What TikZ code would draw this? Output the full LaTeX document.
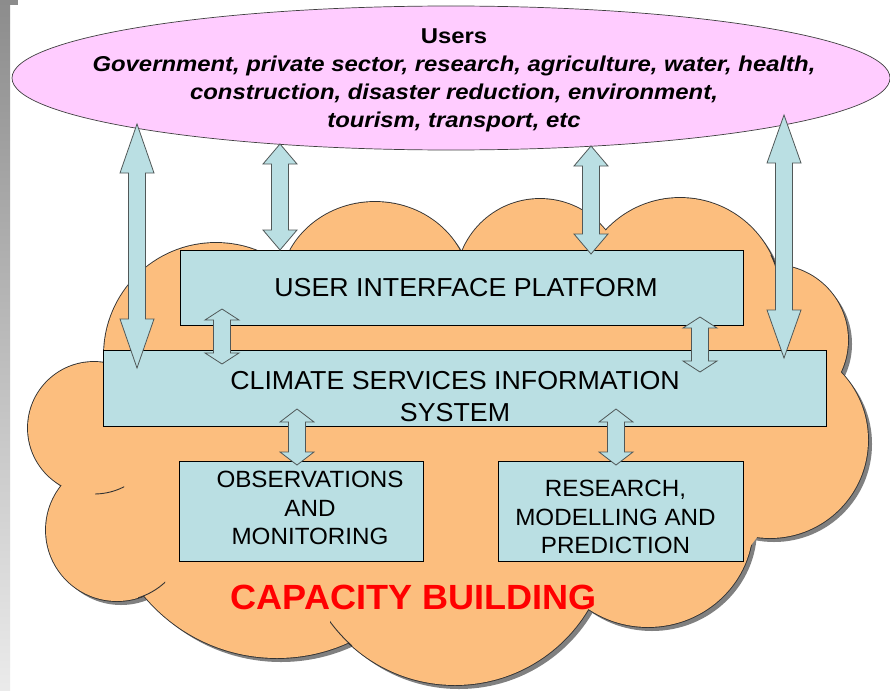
\documentclass[tikz,border=0pt]{standalone}
\usepackage{fontspec}
\setmainfont[FakeStretch=1.03]{Liberation Sans}
\newfontfamily\usersfont[FakeStretch=1.11]{Liberation Sans}
\usetikzlibrary{shapes.geometric,calc}
\definecolor{cloudfill}{RGB}{252,190,126}
\definecolor{boxfill}{RGB}{186,223,227}
\definecolor{pinkfill}{RGB}{255,204,255}
\definecolor{shadowgray}{RGB}{128,128,128}
\definecolor{arrowline}{RGB}{80,88,88}
\definecolor{capred}{RGB}{255,0,0}
\newcommand\cloudshapes[1]{%
  \path[#1] (216,355) circle (112pt);
  \path[#1] (375,290) ellipse [x radius=95pt, y radius=88pt];
  \path[#1] (540,283) circle (84pt);
  \path[#1] (680,299) circle (101pt);
  \path[#1] (773,340) circle (75pt);
  \path[#1] (770,440) circle (98pt);
  \path[#1] (648,525) ellipse [x radius=105pt, y radius=102pt];
  \path[#1] (455,530) circle (155pt);
  \path[#1] (277,485) circle (173pt);
  \path[#1] (117,530) circle (71pt);
  \path[#1] (94,428) circle (66pt);
}
\newcommand\dblarrow[3]{%
  \draw[blockarrow] let \p1=(#1), \p2=(#2) in
  (\p1) -- ++(17pt,-#3pt) -- ++(-8.5pt,0pt) -- (\x2+8.5pt,\y2+#3pt) -- ++(8.5pt,0pt) -- (\p2)
  -- ++(-17pt,#3pt) -- ++(8.5pt,0pt) -- (\x1-8.5pt,\y1-#3pt) -- ++(-8.5pt,0pt) -- cycle;}
\begin{document}
\begin{tikzpicture}[x=1pt,y=-1pt,
  box/.style={rectangle, draw=black, fill=boxfill, line width=0.8pt, inner sep=0pt},
  blockarrow/.style={draw=arrowline, fill=boxfill, line width=0.8pt, line join=miter},
  bigtxt/.style={font=\fontsize{26}{32}\selectfont, align=center, inner sep=0pt},
  smalltxt/.style={font=\fontsize{23.5}{28.5}\selectfont, align=center, inner sep=0pt},
  stub/.style={draw=black!80, line width=0.9pt}]
\useasboundingbox (0,0) rectangle (890,690);
\fill[white] (0,0) rectangle (890,690);
% left gray bar
\shade[top color=black!45, bottom color=black!8] (0,0) rectangle (10,690);
\fill[black!45] (0,0) rectangle (18,5);
% users ellipse
\node[ellipse, draw=black!75, line width=0.7pt, fill=pinkfill, minimum width=878pt, minimum height=144pt, inner sep=0pt] (users) at (451,78) {};
\node[font=\usersfont\bfseries\fontsize{21.5}{28}\selectfont, align=center, inner sep=0pt] (userstext) at (454,80)
  {Users\\\itshape Government, private sector, research, agriculture, water, health,\\\itshape construction, disaster reduction, environment,\\\itshape tourism, transport, etc};
% cloud
\cloudshapes{fill=shadowgray, shift={(4,4)}}
\cloudshapes{draw=black!80, line width=1.8pt}
\cloudshapes{fill=cloudfill}
\fill[cloudfill] (130,300) -- (800,300) -- (800,480) -- (740,560) -- (150,560) -- cycle;
\begin{scope}\clip (95,482) rectangle (124,500); \path[stub] (94,428) circle (66pt);\end{scope}
\begin{scope}\clip (138,580) rectangle (165,600); \path[stub] (117,530) circle (71pt);\end{scope}
\begin{scope}\clip (330,620) rectangle (352,646); \path[stub] (455,530) circle (155pt);\end{scope}
\begin{scope}\clip (765,255) rectangle (790,275); \path[stub] (680,299) circle (101pt);\end{scope}
% boxes
\node[box, minimum width=563pt, minimum height=75pt] (ui) at (461.5,287.5) {};
\node[box, minimum width=723pt, minimum height=76pt] (csis) at (464.5,388) {};
\node[box, minimum width=244pt, minimum height=100pt] (obs) at (301,511) {};
\node[box, minimum width=245pt, minimum height=100pt] (res) at (620.5,511) {};
\node[bigtxt] (uitext) at (466,288) {USER INTERFACE PLATFORM};
\node[bigtxt] (csistext) at (455,397) {CLIMATE SERVICES INFORMATION\\SYSTEM};
\node[smalltxt] (obstext) at (310,508.3) {OBSERVATIONS\\AND\\MONITORING};
\node[smalltxt] (restext) at (615.5,517) {RESEARCH,\\MODELLING AND\\PREDICTION};
\node[font=\bfseries\fontsize{35}{40}\selectfont, text=capred, inner sep=0pt] (cap) at (413.5,597.5) {CAPACITY BUILDING};
% arrow end points
\coordinate (a1t) at (137,124); \coordinate (a1b) at (137,368);
\coordinate (a2t) at (280,144); \coordinate (a2b) at (280,250);
\coordinate (a3t) at (591,146); \coordinate (a3b) at (591,254);
\coordinate (a4t) at (784,115); \coordinate (a4b) at (784,358);
\coordinate (a5t) at (222,309); \coordinate (a5b) at (222,364);
\coordinate (a6t) at (700,317); \coordinate (a6b) at (700,372);
\coordinate (a7t) at (297,409); \coordinate (a7b) at (297,465);
\coordinate (a8t) at (616,409); \coordinate (a8b) at (616,465);
\dblarrow{a1t}{a1b}{49}
\dblarrow{a2t}{a2b}{20}
\dblarrow{a3t}{a3b}{20}
\dblarrow{a4t}{a4b}{48}
\dblarrow{a5t}{a5b}{11}
\dblarrow{a6t}{a6b}{11}
\dblarrow{a7t}{a7b}{13}
\dblarrow{a8t}{a8b}{13}
\end{tikzpicture}
\end{document}
